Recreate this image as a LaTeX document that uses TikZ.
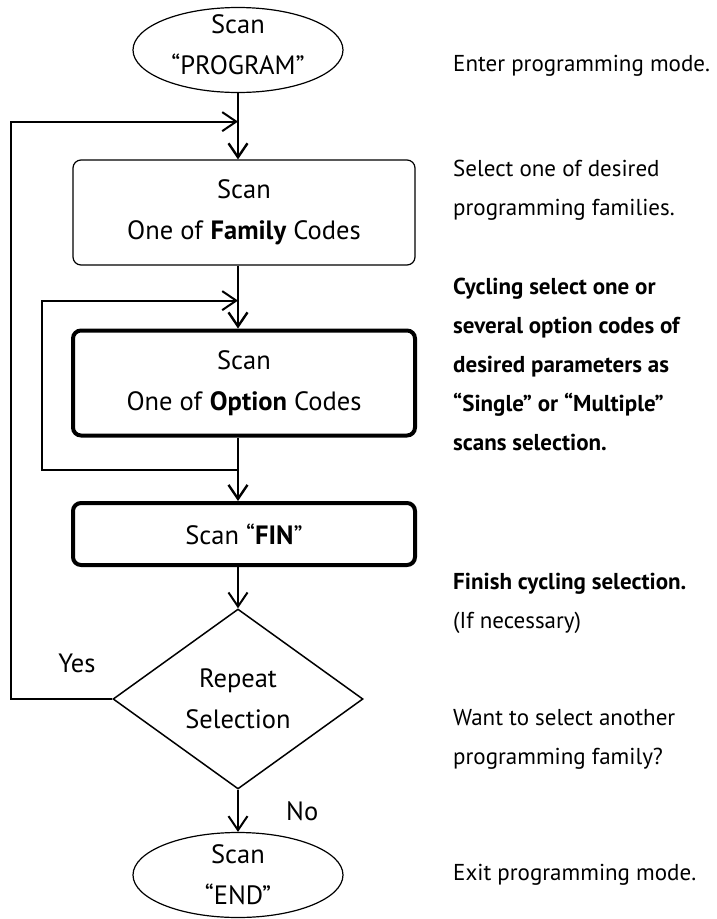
\documentclass[tikz,border=0pt]{standalone}
\usepackage{fontspec}
\setmainfont{PT Sans}
\usetikzlibrary{shapes.geometric, arrows.meta, calc}

\begin{document}
\begin{tikzpicture}[node distance=160pt, every node/.style={font=\fontsize{26.5}{41}\selectfont}]
% Styles
\tikzstyle{startstop} = [ellipse, minimum width=210pt, minimum height=85pt, draw=black, line width=1.2pt, align=center, inner sep=-5pt, text depth=10pt]
\tikzstyle{process} = [rectangle, rounded corners=8pt, minimum width=342pt, minimum height=105pt, text centered, draw=black, line width=1.2pt, align=center]
\tikzstyle{thickprocess} = [process, line width=4pt]
\tikzstyle{decision} = [diamond, minimum width=250pt, minimum height=180pt, text centered, draw=black, line width=1.5pt, align=center, inner sep=0pt]
\tikzstyle{note} = [anchor=west, align=left, inner sep=0pt, font=\fontsize{23}{39}\selectfont]
\tikzstyle{arrow} = [line width=2.8pt, ->, >={Straight Barb[length=14pt, width=19pt, line width=2.4pt]}]
\tikzstyle{thinarrow} = [line width=1.8pt, ->, >={Straight Barb[length=14pt, width=19pt, line width=2pt]}]

\useasboundingbox (0,0) rectangle (717pt,-919pt);

\node (start) [startstop] at (238pt,-50pt) {Scan\\“PROGRAM”};
\node (family) [process, below of=start, xshift=6pt, yshift=-2.5pt] {Scan\\One of \textbf{Family} Codes};
\node (option) [thickprocess, below of=family, yshift=-10.5pt] {Scan\\One of \textbf{Option} Codes};
\node (fin) [thickprocess, minimum height=62pt, below of=option, yshift=9pt] {Scan “\textbf{FIN}”};
\node (decide) [decision, below of=fin, xshift=-6pt, yshift=-5pt] {Repeat\\Selection};
\node (stop) [startstop, text depth=0pt, inner sep=0pt, below of=decide, yshift=-16pt] {Scan\\“END”};

% Notes on the right
\coordinate (notecol) at (453pt,0);
\node (enter_note) [note, yshift=-16pt] at (notecol |- start) {Enter programming mode.};
\node (family_note) [note, yshift=22pt] at (notecol |- family) {Select one of desired\\programming families.};
\node (option_note) [note, yshift=19pt] at (notecol |- option) {\bfseries Cycling select one or\\\bfseries several option codes of\\\bfseries desired parameters as\\\bfseries “Single” or “Multiple”\\\bfseries scans selection.};
\node (fin_note) [note, yshift=-69.5pt] at (notecol |- fin) {\textbf{Finish cycling selection.}\\(If necessary)};
\node (decide_note) [note, yshift=-40.5pt] at (notecol |- decide) {Want to select another\\programming family?};
\node (stop_note) [note] at (notecol |- stop) {Exit programming mode.};

\draw [arrow] (start) -- (start |- family.north);
\draw [arrow] (start |- family.south) -- (start |- option.north);
\draw [arrow] (start |- option.south) -- (start |- fin.north);
\draw [thinarrow] (decide |- fin.south) -- (decide.north);
\draw [thinarrow] (decide) -- node[right, xshift=44pt] {No} (stop);

% Loop back to the family codes
\coordinate (d0) at ($(start.south)+(0,-28.5pt)$);
\coordinate (d1) at ($(decide.west)+(-101pt,0)$);
\draw [thinarrow] (decide.west) -- node[pos=0.35, above=22pt] {Yes} (d1) |- (d0);

% Loop back to the option codes
\coordinate (d2) at ($(start |- option.south)+(0,-32.5pt)$);
\coordinate (d3) at ($(start |- family.south)+(0,-35pt)$);
\draw [thinarrow] (d2) -- ++(-196pt,0) |- (d3);

\end{tikzpicture}
\end{document}
